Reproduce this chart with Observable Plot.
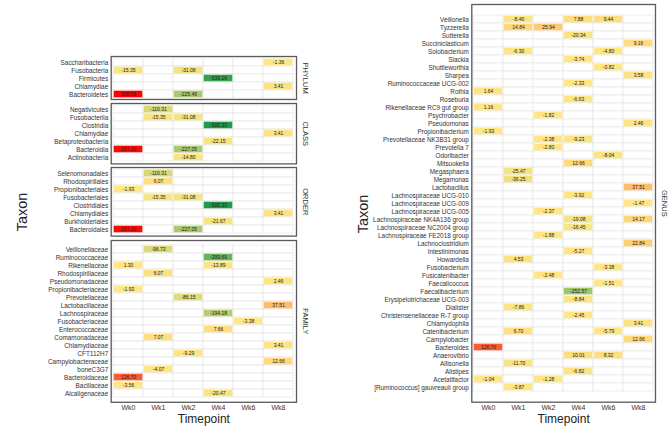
<!DOCTYPE html>
<html>
<head>
<meta charset="utf-8">
<script src="https://cdn.jsdelivr.net/npm/d3@7"></script>
<script src="https://cdn.jsdelivr.net/npm/@observablehq/plot@0.6"></script>
<style>
  html, body { margin: 0; padding: 0; background: #fff; }
  #root { position: relative; width: 669px; height: 433px; overflow: hidden; font-family: "Liberation Sans", Arial, sans-serif; }
  #root svg { position: absolute; overflow: visible; }
  .lab { position: absolute; font-size: 14.5px; color: #222; white-space: nowrap; }
</style>
</head>
<body>
<div id="root"></div>
<script>
const weeks = ["Wk0", "Wk1", "Wk2", "Wk4", "Wk6", "Wk8"];
const _ = null;

const phylumTaxa = ["Saccharibacteria", "Fusobacteria", "Firmicutes", "Chlamydiae", "Bacteroidetes"];
const phylumValues = [
  [_, _, _, _, _, -1.36],
  [-15.35, _, -31.08, _, _, _],
  [_, _, _, -539.26, _, _],
  [_, _, _, _, _, 3.41],
  [205.06, _, -225.46, _, _, _]
];

const classTaxa = ["Negativicutes", "Fusobacteriia", "Clostridia", "Chlamydiae", "Betaproteobacteria", "Bacteroidia", "Actinobacteria"];
const classValues = [
  [_, -110.31, _, _, _, _],
  [_, -15.35, -31.08, _, _, _],
  [_, _, _, -595.33, _, _],
  [_, _, _, _, _, 3.41],
  [_, _, _, -22.15, _, _],
  [197.20, _, -227.05, _, _, _],
  [_, _, -14.80, _, _, _]
];

const orderTaxa = ["Selenomonadales", "Rhodospirillales", "Propionibacteriales", "Fusobacteriales", "Clostridiales", "Chlamydiales", "Burkholderiales", "Bacteroidales"];
const orderValues = [
  [_, -110.31, _, _, _, _],
  [_, 6.07, _, _, _, _],
  [-1.93, _, _, _, _, _],
  [_, -15.35, -31.08, _, _, _],
  [_, _, _, -595.33, _, _],
  [_, _, _, _, _, 3.41],
  [_, _, _, -21.67, _, _],
  [197.20, _, -227.05, _, _, _]
];

const familyTaxa = ["Veillonellaceae", "Ruminococcaceae", "Rikenellaceae", "Rhodospirillaceae", "Pseudomonadaceae", "Propionibacteriaceae", "Prevotellaceae", "Lactobacillaceae", "Lachnospiraceae", "Fusobacteriaceae", "Enterococcaceae", "Comamonadaceae", "Chlamydiaceae", "CFT112H7", "Campylobacteraceae", "boneC3G7", "Bacteroidaceae", "Bacillaceae", "Alcaligenaceae"];
const familyValues = [
  [_, -96.73, _, _, _, _],
  [_, _, _, -399.69, _, _],
  [1.30, _, _, -13.89, _, _],
  [_, 6.07, _, _, _, _],
  [_, _, _, _, _, 2.46],
  [-1.93, _, _, _, _, _],
  [_, _, -86.15, _, _, _],
  [_, _, _, _, _, 37.51],
  [_, _, _, -194.18, _, _],
  [_, _, _, _, -3.38, _],
  [_, _, _, 7.66, _, _],
  [_, 7.07, _, _, _, _],
  [_, _, _, _, _, 3.41],
  [_, _, -9.29, _, _, _],
  [_, _, _, _, _, 12.66],
  [_, -4.07, _, _, _, _],
  [126.70, _, _, _, _, _],
  [-3.56, _, _, _, _, _],
  [_, _, _, -20.47, _, _]
];

const genusTaxa = ["Veillonella", "Tyzzerella", "Sutterella", "Succiniclasticum", "Solobacterium", "Slackia", "Shuttleworthia", "Sharpea", "Ruminococcaceae UCG-002", "Rothia", "Roseburia", "Rikenellaceae RC9 gut group", "Psychrobacter", "Pseudomonas", "Propionibacterium", "Prevotellaceae NK3B31 group", "Prevotella 7", "Odoribacter", "Mitsuokella", "Megasphaera", "Megamonas", "Lactobacillus", "Lachnospiraceae UCG-010", "Lachnospiraceae UCG-009", "Lachnospiraceae UCG-005", "Lachnospiraceae NK4A136 group", "Lachnospiraceae NC2004 group", "Lachnospiraceae FE2018 group", "Lachnoclostridium", "Intestinimonas", "Howardella", "Fusobacterium", "Fusicatenibacter", "Faecalicoccus", "Faecalibacterium", "Erysipelotrichaceae UCG-003", "Dialister", "Christensenellaceae R-7 group", "Chlamydophila", "Catenibacterium", "Campylobacter", "Bacteroides", "Anaerovibrio", "Allisonella", "Alistipes", "Acetatifactor", "[Ruminococcus] gauvreauii group"];
const genusValues = [
  [_, -8.46, _, 7.88, 9.44, _],
  [_, 14.84, 25.94, _, _, _],
  [_, _, _, -20.34, _, _],
  [_, _, _, _, _, 9.16],
  [_, -6.30, _, _, -4.80, _],
  [_, _, _, -3.74, _, _],
  [_, _, _, _, -0.82, _],
  [_, _, _, _, _, 3.58],
  [_, _, _, -2.33, _, _],
  [1.64, _, _, _, _, _],
  [_, _, _, -6.63, _, _],
  [1.16, _, _, _, _, _],
  [_, _, -1.82, _, _, _],
  [_, _, _, _, _, 2.46],
  [-1.93, _, _, _, _, _],
  [_, _, -2.38, -9.23, _, _],
  [_, _, -2.80, _, _, _],
  [_, _, _, _, -8.04, _],
  [_, _, _, 12.66, _, _],
  [_, -25.47, _, _, _, _],
  [_, -36.25, _, _, _, _],
  [_, _, _, _, _, 37.51],
  [_, _, _, -3.92, _, _],
  [_, _, _, _, _, -1.47],
  [_, _, -2.37, _, _, _],
  [_, _, _, -19.08, _, 14.17],
  [_, _, _, -16.45, _, _],
  [_, _, -1.88, _, _, _],
  [_, _, _, _, _, 22.84],
  [_, _, _, -5.27, _, _],
  [_, 4.53, _, _, _, _],
  [_, _, _, _, -3.38, _],
  [_, _, -2.48, _, _, _],
  [_, _, _, _, -1.51, _],
  [_, _, _, -252.57, _, _],
  [_, _, _, -8.84, _, _],
  [_, -7.86, _, _, _, _],
  [_, _, _, -2.45, _, _],
  [_, _, _, _, _, 3.41],
  [_, 6.70, _, _, -5.79, _],
  [_, _, _, _, _, 12.66],
  [126.70, _, _, _, _, _],
  [_, _, _, 10.01, 8.32, _],
  [_, -11.70, _, _, _, _],
  [_, _, _, -6.82, _, _],
  [-1.04, _, -1.28, _, _, _],
  [_, -3.87, _, _, _, _]
];

const allVals = [phylumValues, classValues, orderValues, familyValues, genusValues]
  .flat(2).filter(v => v != null);
const vMin = d3.min(allVals), vMax = d3.max(allVals);

const FONT = "Liberation Sans, Arial, sans-serif";
const root = document.getElementById("root");

function panel({taxa, values, level, boxTop, boxBottom, left, width, marginLeft, marginRight, xAxis}) {
  const rows = [];
  taxa.forEach((t, i) => weeks.forEach((w, j) => rows.push({taxon: t, week: w, value: values[i][j]})));
  const filled = rows.filter(d => d.value != null);
  const mt = 2, mb = xAxis ? 32 : 2;
  const height = (boxBottom - boxTop) + mt + mb;
  const marks = [
    Plot.cell(rows, {x: "week", y: "taxon", fill: "white", stroke: "#e2e2e2", strokeWidth: 0.6}),
    Plot.cell(filled, {x: "week", y: "taxon", fill: "value", inset: 0.7}),
    Plot.text(filled, {x: "week", y: "taxon", text: d => d.value.toFixed(2), fontSize: 5, fill: "#222"}),
    Plot.frame({stroke: "#5a5a5a", strokeWidth: 1.3}),
    Plot.axisY({tickSize: 0, tickPadding: 3, fontSize: 6.4, label: null, color: "#333"}),
    Plot.text([level], {frameAnchor: "right", textAnchor: "middle", dx: 9, rotate: 90, fontSize: 7.5, fill: "#333", text: d => d})
  ];
  if (xAxis) {
    marks.push(Plot.axisX({tickSize: 0, tickPadding: 3, fontSize: 7, label: null, color: "#333"}));
    marks.push(Plot.text(["Timepoint"], {frameAnchor: "bottom", dy: 21, fontSize: 12, fill: "#222", text: d => d}));
  }
  const svg = Plot.plot({
    width, height,
    marginTop: mt, marginBottom: mb, marginLeft, marginRight,
    style: {fontFamily: FONT, background: "transparent", overflow: "visible"},
    x: {domain: weeks, padding: 0, axis: null},
    y: {domain: taxa, padding: 0, axis: null},
    color: {type: "linear", domain: [vMin, 0, vMax], range: ["#1f9a48", "#ffe784", "#ff0000"], interpolate: "rgb"},
    marks
  });
  svg.style.left = left + "px";
  svg.style.top = (boxTop - mt) + "px";
  root.appendChild(svg);
}

const leftOpts = {left: 0, width: 330, marginLeft: 110.7, marginRight: 34};
panel({taxa: phylumTaxa, values: phylumValues, level: "PHYLUM", boxTop: 56.3, boxBottom: 99.3, ...leftOpts});
panel({taxa: classTaxa, values: classValues, level: "CLASS", boxTop: 103, boxBottom: 163.4, ...leftOpts});
panel({taxa: orderTaxa, values: orderValues, level: "ORDER", boxTop: 166.8, boxBottom: 235.4, ...leftOpts});
panel({taxa: familyTaxa, values: familyValues, level: "FAMILY", boxTop: 239.7, boxBottom: 401.5, xAxis: true, ...leftOpts});
panel({taxa: genusTaxa, values: genusValues, level: "GENUS", boxTop: 4.3, boxBottom: 402, xAxis: true,
  left: 330, width: 339, marginLeft: 141.3, marginRight: 14});

function label(text, x, y) {
  const d = document.createElement("div");
  d.className = "lab";
  d.textContent = text;
  d.style.left = x + "px";
  d.style.top = y + "px";
  d.style.transform = "translate(-50%, -50%) rotate(-90deg)";
  root.appendChild(d);
}
label("Taxon", 22, 212);
label("Taxon", 363, 214);
</script>
</body>
</html>
